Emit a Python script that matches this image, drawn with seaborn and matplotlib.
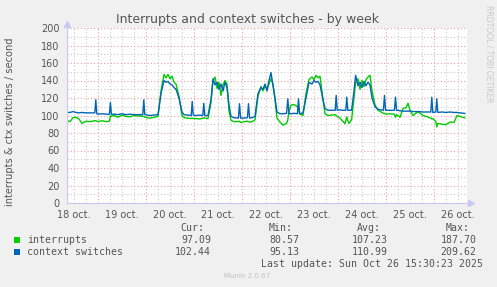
import matplotlib
matplotlib.use("Agg")
import matplotlib.pyplot as plt
from matplotlib.patches import Rectangle
from matplotlib.ticker import FixedLocator, FuncFormatter, NullFormatter
import pandas as pd
import seaborn as sns

# ---------------- data (hours since 18 oct 00:00) ----------------
hours = [8.25, 10, 11.5, 13, 14.5, 16, 18, 20, 22.4, 22.9, 23.4, 24, 26, 28, 29.7, 30.2, 30.7,
         32, 34, 36, 38, 40, 42, 44, 46.4, 46.9, 47.4, 50, 52, 54, 55.5, 57, 58, 59, 60, 61,
         62, 63, 64.5, 66, 67, 68.5, 70.6, 71.1, 71.6, 73, 75, 76.4, 76.9, 77.4, 79, 80.5,
         81.5, 82.5, 83.5, 84.5, 85.5, 86.5, 87.5, 88.5, 89.5, 90.5, 92, 94.2, 94.75, 95.3,
         97, 98.7, 99.25, 99.8, 101, 102.5, 104, 105.5, 106.5, 107.5, 108.5, 109.5, 110.5,
         111.5, 112.5, 113.5, 115, 116.5, 118.3, 118.9, 119.5, 120.5, 122, 123.7, 124.25,
         124.8, 126.5, 128, 129.5, 131, 132, 133, 134, 135, 136.3, 137.5, 139, 141, 142.6,
         143.1, 143.6, 145, 146, 147.5, 147.9, 148.4, 148.9, 149.5, 150.8, 152, 152.8, 154,
         155, 156, 157, 158, 159, 160, 161, 162.5, 164, 166.7, 167.25, 167.8, 170, 172.2,
         172.75, 173.3, 175, 176.5, 178, 179, 180, 181.5, 184, 186.5, 188, 190.4, 190.9,
         191.4, 192.9, 193.4, 193.9, 196, 198, 200, 202, 203.5, 205, 207.5]

ctx = [103.5, 103.5, 104.5, 103.5, 103, 103.5, 103, 103, 103, 118, 102, 101.5, 102, 101.5,
       101.5, 115, 101.5, 101.5, 101, 102, 101, 101.5, 101, 101, 101, 118, 101, 100, 100.5,
       101, 125, 140, 138, 139, 136, 135, 132, 130, 120, 104, 101, 100.5, 100, 116, 100.5,
       100, 100.5, 100, 114, 100, 100, 118, 142, 135, 138, 130, 136, 128, 138, 132, 112,
       99, 97.5, 97, 113.5, 97, 97, 97.5, 113.5, 97, 97.5, 99, 125, 132, 130, 136, 128,
       140, 149, 134, 120, 104, 102, 102, 102.5, 119, 102, 102, 102.5, 102, 119, 102, 103,
       120, 138, 136, 140, 138, 139, 135, 120, 108, 106, 106, 106, 123, 106, 106.5, 106,
       106, 106, 121, 106, 106, 106, 128, 146, 134, 138, 132, 139, 134, 138, 135, 120, 110,
       107, 106, 123, 106, 106, 106, 121, 106, 105.5, 105, 105, 105, 105, 104.5, 104.5, 104,
       104, 104, 121, 103.5, 104, 119, 103.5, 104, 103.5, 104, 103.5, 103.5, 103, 102.4]

interrupts = [94.5, 93, 97.5, 98, 96, 91, 93.5, 93, 94, 94, 93.5, 93, 94, 93, 93.5, 100, 99,
              100, 98, 100.5, 99, 98.5, 100, 99.5, 99, 99, 98, 97, 98, 99, 128, 147, 143, 147,
              142, 145, 138, 136, 122, 100, 97.5, 97, 96.5, 97, 96.5, 96.5, 96, 97, 97.5, 97,
              96.5, 115, 140, 144, 131, 138, 123, 135, 140, 136, 105, 94.5, 93, 93, 93.5, 92,
              93, 93.5, 93, 92.5, 93, 95, 122, 133, 128, 134, 130, 136, 142, 136, 118, 97, 92.5,
              89, 91, 95, 105, 112, 112.5, 110, 108, 102, 100, 125, 141, 144, 141, 146, 143, 145,
              122, 102, 100, 100.5, 101, 100, 99, 97, 94.5, 90.7, 94, 98.5, 94, 91, 95, 120, 138,
              142, 130, 140, 133, 141, 144, 146, 128, 112, 106, 102.5, 102.5, 101.5, 102, 101.5,
              98, 101, 98, 108, 109, 114, 106, 100, 104.5, 100, 99, 97, 96, 96.5, 93, 87, 91, 90,
              89.5, 92.5, 92, 100, 99, 97.1]

series_names = ["interrupts", "context switches"]
series_colors = ["#00CC00", "#0066B3"]
day_labels = ["18 oct.", "19 oct.", "20 oct.", "21 oct.", "22 oct.", "23 oct.",
              "24 oct.", "25 oct.", "26 oct."]
cur_vals = ["97.09", "102.44"]
min_vals = ["80.57", "95.13"]
avg_vals = ["107.23", "110.99"]
max_vals = ["187.70", "209.62"]

# ---------------- figure ----------------
sns.set_style("white")
plt.rcParams["font.family"] = ["DejaVu Sans"]

W, H = 497, 287
fig = plt.figure(figsize=(W / 100, H / 100), dpi=100, facecolor="#F0F0F0")
L, R, T, B = 66.5, 466.5, 28, 203
ax = fig.add_axes([L / W, 1 - B / H, (R - L) / W, (B - T) / H])
ax.set_facecolor("white")

n = len(hours)
df = pd.DataFrame({
    "hour": hours + hours,
    "value": interrupts + ctx,
    "series": [series_names[0]] * n + [series_names[1]] * n,
})
sns.lineplot(data=df, x="hour", y="value", hue="series",
             palette=dict(zip(series_names, series_colors)),
             hue_order=series_names, estimator=None, sort=False,
             linewidth=1.0, legend=False, ax=ax)

ax.set_xlim(8.25, 208.25)
ax.set_ylim(0, 200)
ax.set_xlabel("")
ax.set_ylabel("")

# x grid: midnights major (red), 6h minor (gray); labels at noon
midnights = [24 * d for d in range(1, 9)]
sixes = [h for h in range(12, 208, 6) if h % 24 != 0]
ax.xaxis.set_major_locator(FixedLocator(midnights))
ax.xaxis.set_major_formatter(NullFormatter())
ax.xaxis.set_minor_locator(FixedLocator(sixes))
ax.xaxis.set_minor_formatter(FuncFormatter(
    lambda v, p: day_labels[int(v) // 24] if int(v) % 24 == 12 else ""))

ax.yaxis.set_major_locator(FixedLocator(list(range(0, 201, 20))))
ax.yaxis.set_minor_locator(FixedLocator(list(range(10, 200, 20))))

ax.grid(which="major", color="#EAA0A0", linestyle=(0, (1, 2)), linewidth=0.8)
ax.grid(which="minor", color="#C8C8C8", linestyle=(0, (1, 2)), linewidth=0.8)
ax.set_axisbelow(True)

txt = "#555555"
ax.tick_params(axis="both", which="both", labelsize=7, labelcolor=txt, length=2,
               width=0.6, pad=3)
ax.tick_params(axis="both", which="major", color="#EAA0A0")
ax.tick_params(axis="both", which="minor", color="#C8C8C8")
ax.tick_params(axis="x", which="minor", pad=3)

for s in ["top", "right"]:
    ax.spines[s].set_visible(False)
for s in ["left", "bottom"]:
    ax.spines[s].set_color("#C8C8F0")
    ax.spines[s].set_linewidth(0.8)

ax.plot([0], [1.025], marker="^", color="#C8C8F0", markersize=4, transform=ax.transAxes,
        clip_on=False)
ax.plot([1.012], [0], marker=">", color="#C8C8F0", markersize=4, transform=ax.transAxes,
        clip_on=False)

# texts
fig.text(247.5 / W, 1 - 19.5 / H, "Interrupts and context switches - by week",
         ha="center", va="center", fontsize=9, color=txt)
fig.text(10 / W, 1 - 122 / H, "interrupts & ctx switches / second", rotation=90,
         ha="center", va="center", fontsize=7.1, color=txt)
fig.text(488.5 / W, 1 - 53.5 / H, "RRDTOOL / TOBI OETIKER", rotation=270,
         ha="center", va="center", fontsize=5.5, color="#C8C8C8")

mono = dict(family="DejaVu Sans Mono", fontsize=7.1, color=txt, va="center")
fig.text(204 / W, 1 - 228.3 / H, "Cur:", ha="right", **mono)
fig.text(293 / W, 1 - 228.3 / H, "Min:", ha="right", **mono)
fig.text(381 / W, 1 - 228.3 / H, "Avg:", ha="right", **mono)
fig.text(470 / W, 1 - 228.3 / H, "Max:", ha="right", **mono)

rows_y = [240, 251.7]
for i, name in enumerate(series_names):
    y = rows_y[i]
    fig.patches.append(Rectangle((14 / W, 1 - (y + 3) / H), 6 / W, 6 / H,
                                 transform=fig.transFigure, facecolor=series_colors[i],
                                 edgecolor="none"))
    fig.text(26.7 / W, 1 - y / H, name, ha="left", **mono)
    fig.text(211 / W, 1 - y / H, cur_vals[i], ha="right", **mono)
    fig.text(299.5 / W, 1 - y / H, min_vals[i], ha="right", **mono)
    fig.text(387.3 / W, 1 - y / H, avg_vals[i], ha="right", **mono)
    fig.text(476.7 / W, 1 - y / H, max_vals[i], ha="right", **mono)

fig.text(482.7 / W, 1 - 264 / H, "Last update: Sun Oct 26 15:30:23 2025", ha="right", **mono)
fig.text(247.5 / W, 1 - 276 / H, "Munin 2.0.67", ha="center", va="center",
         fontsize=5, color="#C0C0C0")

fig.savefig("out.png", dpi=100, facecolor=fig.get_facecolor())
